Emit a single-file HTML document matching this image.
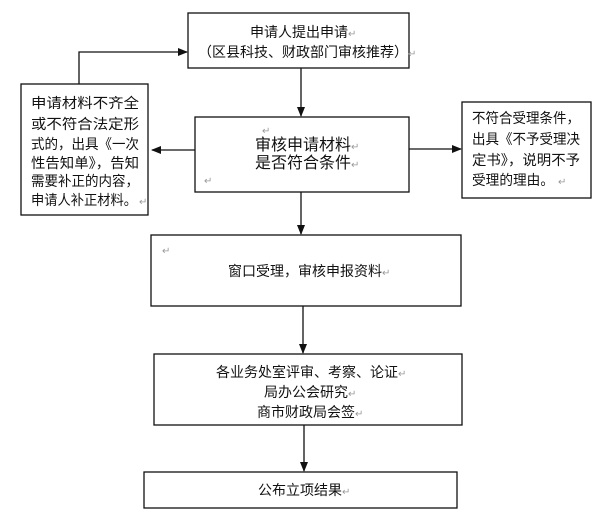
<!DOCTYPE html>
<html><head><meta charset="utf-8"><style>
html,body{margin:0;padding:0;background:#fff;}
svg{display:block;}
text{font-family:"Liberation Sans","Noto Sans CJK SC","WenQuanYi Zen Hei",sans-serif;fill:#111;}
.m{fill:#999;font-size:10px;}
</style></head><body>
<svg width="600" height="514" viewBox="0 0 600 514" xmlns="http://www.w3.org/2000/svg">
<defs><marker id="a" markerWidth="10" markerHeight="8" refX="9" refY="4" orient="auto" markerUnits="userSpaceOnUse"><path d="M0,0 L10,4 L0,8 z" fill="#111"/></marker></defs>
<g fill="none" stroke="#111" stroke-width="1.3">
<rect x="188" y="13" width="221" height="55"/>
<rect x="21" y="84" width="127" height="131"/>
<rect x="195" y="117" width="214" height="75"/>
<rect x="462" y="102" width="129" height="96"/>
<rect x="151" y="235" width="310" height="71"/>
<rect x="154" y="354" width="308" height="71"/>
<rect x="144" y="472" width="313" height="36"/>
<path d="M301 68 V116" marker-end="url(#a)"/>
<path d="M79 84 V52 H187" marker-end="url(#a)"/>
<path d="M195 150 H152" marker-end="url(#a)"/>
<path d="M409 149 H461" marker-end="url(#a)"/>
<path d="M301 192 V234" marker-end="url(#a)"/>
<path d="M303 306 V353" marker-end="url(#a)"/>
<path d="M304 425 V471" marker-end="url(#a)"/>
</g>
<g font-size="14">
<text x="250" y="37">申请人提出申请<tspan class="m">↵</tspan></text>
<text x="198" y="57">（区县科技、财政部门审核推荐）<tspan class="m">↵</tspan></text>
<g font-size="14">
<text x="31" y="108" textLength="108" lengthAdjust="spacingAndGlyphs">申请材料不齐全</text>
<text x="31" y="129" textLength="108" lengthAdjust="spacingAndGlyphs">或不符合法定形</text>
<text x="31" y="149" textLength="108" lengthAdjust="spacingAndGlyphs">式的，出具《一次</text>
<text x="31" y="168" textLength="108" lengthAdjust="spacingAndGlyphs">性告知单》，告知</text>
<text x="31" y="186" textLength="108" lengthAdjust="spacingAndGlyphs">需要补正的内容，</text>
<text x="31" y="205" textLength="106" lengthAdjust="spacingAndGlyphs">申请人补正材料。</text><text class="m" x="139" y="205">↵</text>
<text x="472" y="123" textLength="108" lengthAdjust="spacingAndGlyphs">不符合受理条件，</text>
<text x="472" y="144" textLength="108" lengthAdjust="spacingAndGlyphs">出具《不予受理决</text>
<text x="472" y="165" textLength="108" lengthAdjust="spacingAndGlyphs">定书》，说明不予</text>
<text x="472" y="185" textLength="82" lengthAdjust="spacingAndGlyphs">受理的理由。</text><text class="m" x="558" y="185">↵</text>
</g>
<text class="m" x="262" y="134">↵</text>
<text x="255" y="150" font-size="16">审核申请材料<tspan class="m">↵</tspan></text>
<text x="255" y="168" font-size="16">是否符合条件<tspan class="m">↵</tspan></text>
<text class="m" x="204" y="184">↵</text>
<text class="m" x="162" y="254">↵</text>
<text x="228" y="276">窗口受理，审核申报资料<tspan class="m">↵</tspan></text>
<text x="216" y="377">各业务处室评审、考察、论证<tspan class="m">↵</tspan></text>
<text x="264" y="397">局办公会研究<tspan class="m">↵</tspan></text>
<text x="257" y="417">商市财政局会签<tspan class="m">↵</tspan></text>
<text x="258" y="495">公布立项结果<tspan class="m">↵</tspan></text>
</g>
</svg>
</body></html>
